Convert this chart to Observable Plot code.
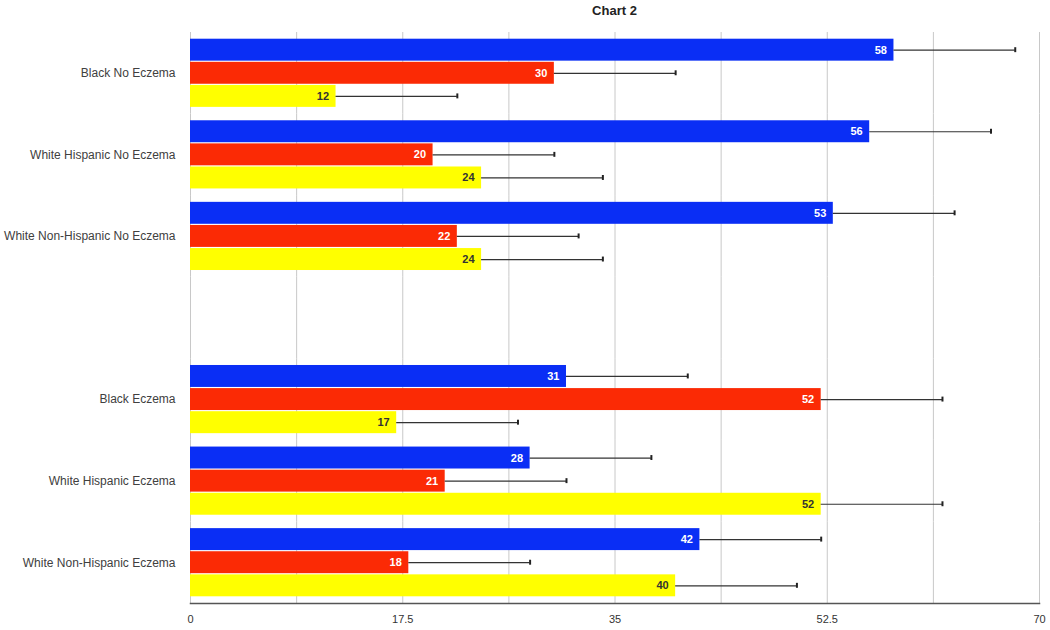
<!DOCTYPE html>
<html>
<head>
<meta charset="utf-8">
<script src="https://cdn.jsdelivr.net/npm/d3@7"></script>
<script src="https://cdn.jsdelivr.net/npm/@observablehq/plot@0.6"></script>
<style>
  html, body { margin: 0; padding: 0; background: #fff; }
  body { width: 1050px; height: 630px; overflow: hidden; font-family: "Liberation Sans", Arial, sans-serif; }
  #title { margin-left: 190px; width: 849px; height: 22px; line-height: 22px; text-align: center; font-weight: bold; font-size: 13px; color: #222; }
</style>
</head>
<body>
<div id="title">Chart 2</div>
<div id="chart"></div>
<script>
const categories = ["Black No Eczema", "White Hispanic No Eczema", "White Non-Hispanic No Eczema", "", "Black Eczema", "White Hispanic Eczema", "White Non-Hispanic Eczema"];
const groupCategories = ["Black No Eczema", "White Hispanic No Eczema", "White Non-Hispanic No Eczema", "Black Eczema", "White Hispanic Eczema", "White Non-Hispanic Eczema"];
const seriesNames = ["Series 1", "Series 2", "Series 3"];
const blueValues = [58, 56, 53, 31, 28, 42];
const redValues = [30, 20, 22, 52, 21, 18];
const yellowValues = [12, 24, 24, 17, 52, 40];
const blueErrors = [10, 10, 10, 10, 10, 10];
const redErrors = [10, 10, 10, 10, 10, 10];
const yellowErrors = [10, 10, 10, 10, 10, 10];
const gridTicks = [0, 8.75, 17.5, 26.25, 35, 43.75, 52.5, 61.25, 70];
const labelTicks = [0, 17.5, 35, 52.5, 70];
const colors = ["#0a2ef5", "#fb2a05", "#ffff00"];
const labelColors = ["#ffffff", "#ffffff", "#333333"];

const valueSets = [blueValues, redValues, yellowValues];
const errorSets = [blueErrors, redErrors, yellowErrors];
const rows = [];
groupCategories.forEach((c, i) => {
  seriesNames.forEach((s, j) => {
    rows.push({category: c, series: s, value: valueSets[j][i], err: errorSets[j][i], hi: valueSets[j][i] + errorSets[j][i]});
  });
});
const gridRows = categories.flatMap(c => gridTicks.map(t => ({category: c, tick: t})));

const chart = Plot.plot({
  width: 1050,
  height: 608,
  marginLeft: 190,
  marginRight: 11,
  marginTop: 10,
  marginBottom: 27,
  style: {fontFamily: "'Liberation Sans', Arial, sans-serif", fontSize: "11px", color: "#333"},
  x: {domain: [0, 70], axis: null},
  y: {domain: seriesNames, axis: null, paddingInner: 0.05, paddingOuter: 0.29, round: false},
  fy: {domain: categories, padding: 0, axis: null, round: false},
  color: {domain: seriesNames, range: colors},
  marks: [
    Plot.ruleX(gridRows, {x: "tick", fy: "category", stroke: "#c8c8c8", strokeWidth: 1}),
    Plot.barX(rows, {x: "value", y: "series", fy: "category", fill: "series"}),
    Plot.ruleY(rows, {x1: "value", x2: "hi", y: "series", fy: "category", stroke: "#333", strokeWidth: 1.2}),
    Plot.tickX(rows, {x: "hi", y: "series", fy: "category", stroke: "#222", strokeWidth: 2, insetTop: 8.5, insetBottom: 8.5}),
    Plot.text(rows, {x: "value", y: "series", fy: "category", text: d => String(d.value), textAnchor: "end", dx: -7, fill: d => labelColors[seriesNames.indexOf(d.series)], fontWeight: "bold", fontSize: 11}),
    Plot.axisFy({anchor: "left", label: null, tickSize: 0, tickPadding: 15, fontSize: 12, color: "#404040"}),
    Plot.axisX({ticks: labelTicks, tickFormat: d => String(d), label: null, tickSize: 0, tickPadding: 12, fontSize: 11, color: "#333"}),
    Plot.frame({anchor: "bottom", facetAnchor: "bottom", stroke: "#555", strokeWidth: 1.5})
  ]
});
document.getElementById("chart").appendChild(chart);
</script>
</body>
</html>
